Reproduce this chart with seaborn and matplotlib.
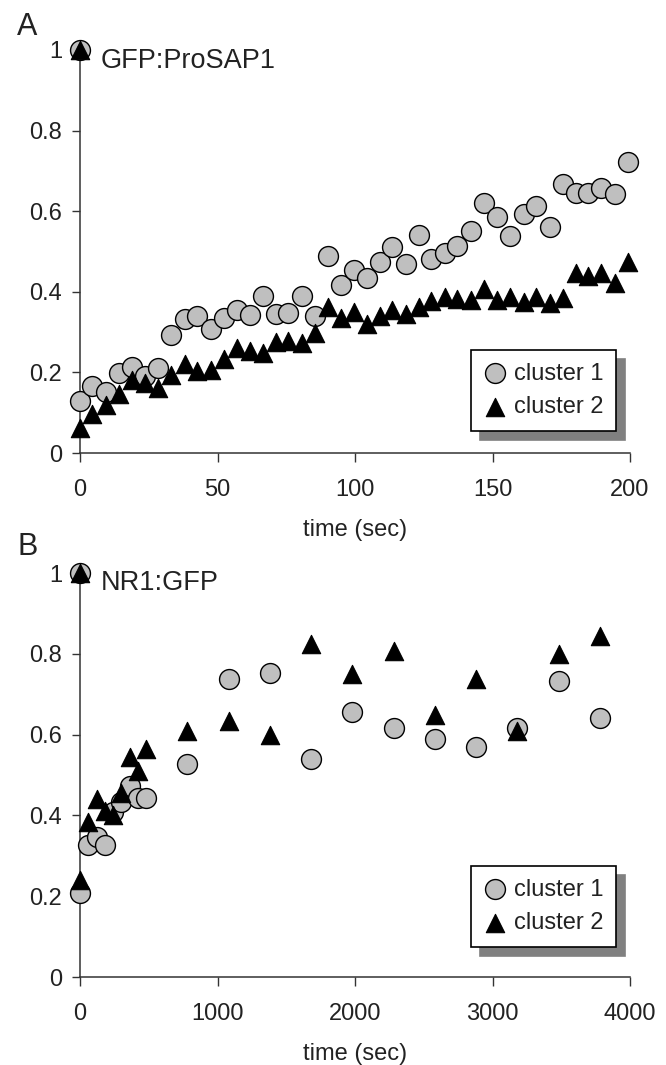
import matplotlib
matplotlib.use("Agg")
import matplotlib.pyplot as plt
import seaborn as sns
import pandas as pd

# ------------------------------------------------------------------
# Data (first value of each series = pre-bleach 1.0)
# ------------------------------------------------------------------
# Panel A - GFP:ProSAP1
time_a = [0, 0, 4.5, 9.4, 14.0, 19.0, 23.6, 28.5, 33.2, 38.0, 42.6,
          47.5, 52.2, 57.1, 61.7, 66.4, 71.3, 75.8, 80.6, 85.3, 90.0,
          94.8, 99.5, 104.2, 109.0, 113.6, 118.5, 123.1, 127.8, 132.7, 137.2,
          142.0, 146.9, 151.7, 156.5, 161.3, 165.9, 171.0, 175.6, 180.2, 184.9,
          189.5, 194.4, 199.1]
cluster1_a = [1.0, 0.129, 0.166, 0.151, 0.198, 0.213, 0.191, 0.210, 0.294, 0.333, 0.339,
              0.308, 0.334, 0.354, 0.342, 0.390, 0.346, 0.347, 0.390, 0.339, 0.489,
              0.417, 0.453, 0.434, 0.473, 0.512, 0.468, 0.541, 0.481, 0.497, 0.514,
              0.551, 0.620, 0.585, 0.539, 0.592, 0.612, 0.562, 0.668, 0.645, 0.645,
              0.658, 0.643, 0.723]
cluster2_a = [1.0, 0.063, 0.096, 0.119, 0.146, 0.181, 0.173, 0.162, 0.193, 0.220, 0.203,
              0.206, 0.234, 0.261, 0.254, 0.247, 0.275, 0.277, 0.273, 0.298, 0.362,
              0.335, 0.351, 0.319, 0.341, 0.354, 0.346, 0.362, 0.376, 0.387, 0.383,
              0.380, 0.407, 0.380, 0.387, 0.374, 0.387, 0.372, 0.384, 0.446, 0.440,
              0.446, 0.421, 0.475]

# Panel B - NR1:GFP
time_b = [0, 0, 60, 120, 180, 240, 300, 360, 420, 480, 780, 1080, 1380,
          1680, 1980, 2280, 2580, 2880, 3180, 3480, 3780]
cluster1_b = [1.0, 0.207, 0.326, 0.347, 0.326, 0.408, 0.433, 0.474, 0.444, 0.444,
              0.528, 0.737, 0.752, 0.540, 0.657, 0.616, 0.589, 0.569, 0.616, 0.733, 0.641]
cluster2_b = [1.0, 0.240, 0.383, 0.441, 0.411, 0.400, 0.455, 0.544, 0.509, 0.565,
              0.608, 0.633, 0.598, 0.825, 0.751, 0.806, 0.649, 0.737, 0.608, 0.799, 0.844]

yticks = [0, 0.2, 0.4, 0.6, 0.8, 1]
ytick_labels = ["0", "0.2", "0.4", "0.6", "0.8", "1"]
xticks_a = [0, 50, 100, 150, 200]
xticks_b = [0, 1000, 2000, 3000, 4000]

# ------------------------------------------------------------------
# Style
# ------------------------------------------------------------------
sns.set_theme(style="ticks")
plt.rcParams["font.family"] = ["Liberation Sans", "DejaVu Sans"]
INK = "#222222"
AXC = "#333333"
FS = 17

fig = plt.figure(figsize=(6.66, 10.65), dpi=100)
W, H = 666, 1065


def px_axes(left, top, right, bottom):
    return fig.add_axes([left / W, 1 - bottom / H, (right - left) / W, (bottom - top) / H])


ax_a = px_axes(80, 50, 630, 453)
ax_b = px_axes(80, 573, 630, 977)


def panel(ax, t, c1, c2, xticks, legend_y):
    df = pd.DataFrame({"time": t + t,
                       "value": c1 + c2,
                       "cluster": ["cluster 1"] * len(t) + ["cluster 2"] * len(t)})
    sns.scatterplot(data=df[df.cluster == "cluster 1"], x="time", y="value",
                    marker="o", s=205, color="#bfbfbf", edgecolor="black",
                    linewidth=1.0, clip_on=False, zorder=3, label="cluster 1", ax=ax)
    sns.scatterplot(data=df[df.cluster == "cluster 2"], x="time", y="value",
                    marker="^", s=175, color="black", edgecolor="black",
                    linewidth=0.8, clip_on=False, zorder=4, label="cluster 2", ax=ax)

    ax.set_xlim(xticks[0], xticks[-1])
    ax.set_ylim(0, 1)
    ax.set_xticks(xticks)
    ax.set_xticklabels([str(v) for v in xticks])
    ax.set_yticks(yticks)
    ax.set_yticklabels(ytick_labels)
    ax.set_ylabel("")
    ax.set_xlabel("time (sec)", fontsize=FS, color=INK, labelpad=13)
    for side in ["top", "right"]:
        ax.spines[side].set_visible(False)
    for side in ["left", "bottom"]:
        ax.spines[side].set_color(AXC)
        ax.spines[side].set_linewidth(1.1)
    ax.tick_params(axis="x", length=6.5, width=1.0, pad=12.5, colors=AXC,
                   labelsize=FS, labelcolor=INK)
    ax.tick_params(axis="y", length=5.8, width=1.0, pad=7, colors=AXC,
                   labelsize=FS, labelcolor=INK)

    leg = ax.legend(loc="lower right", bbox_to_anchor=(0.9745, legend_y),
                    borderaxespad=0, frameon=True, fancybox=False,
                    edgecolor="black", framealpha=1, fontsize=FS,
                    borderpad=0.54, labelspacing=0.49, handlelength=0.95,
                    handletextpad=0.33,
                    shadow={"ox": 6.3, "oy": -6.3, "color": "#808080", "alpha": 1})
    leg.get_frame().set_linewidth(1.2)
    for txt in leg.get_texts():
        txt.set_color(INK)


panel(ax_a, time_a, cluster1_a, cluster2_a, xticks_a, 0.0546)
panel(ax_b, time_b, cluster1_b, cluster2_b, xticks_b, 0.0743)

# panel letters and construct names
fig.text(17 / W, 1 - 35 / H, "A", fontsize=22, color=INK, va="baseline")
fig.text(17 / W, 1 - 555 / H, "B", fontsize=22, color=INK, va="baseline")
fig.text(101 / W, 1 - 68 / H, "GFP:ProSAP1", fontsize=19.5, color=INK, va="baseline")
fig.text(101 / W, 1 - 590 / H, "NR1:GFP", fontsize=19.5, color=INK, va="baseline")

fig.savefig("out.png", dpi=100)
